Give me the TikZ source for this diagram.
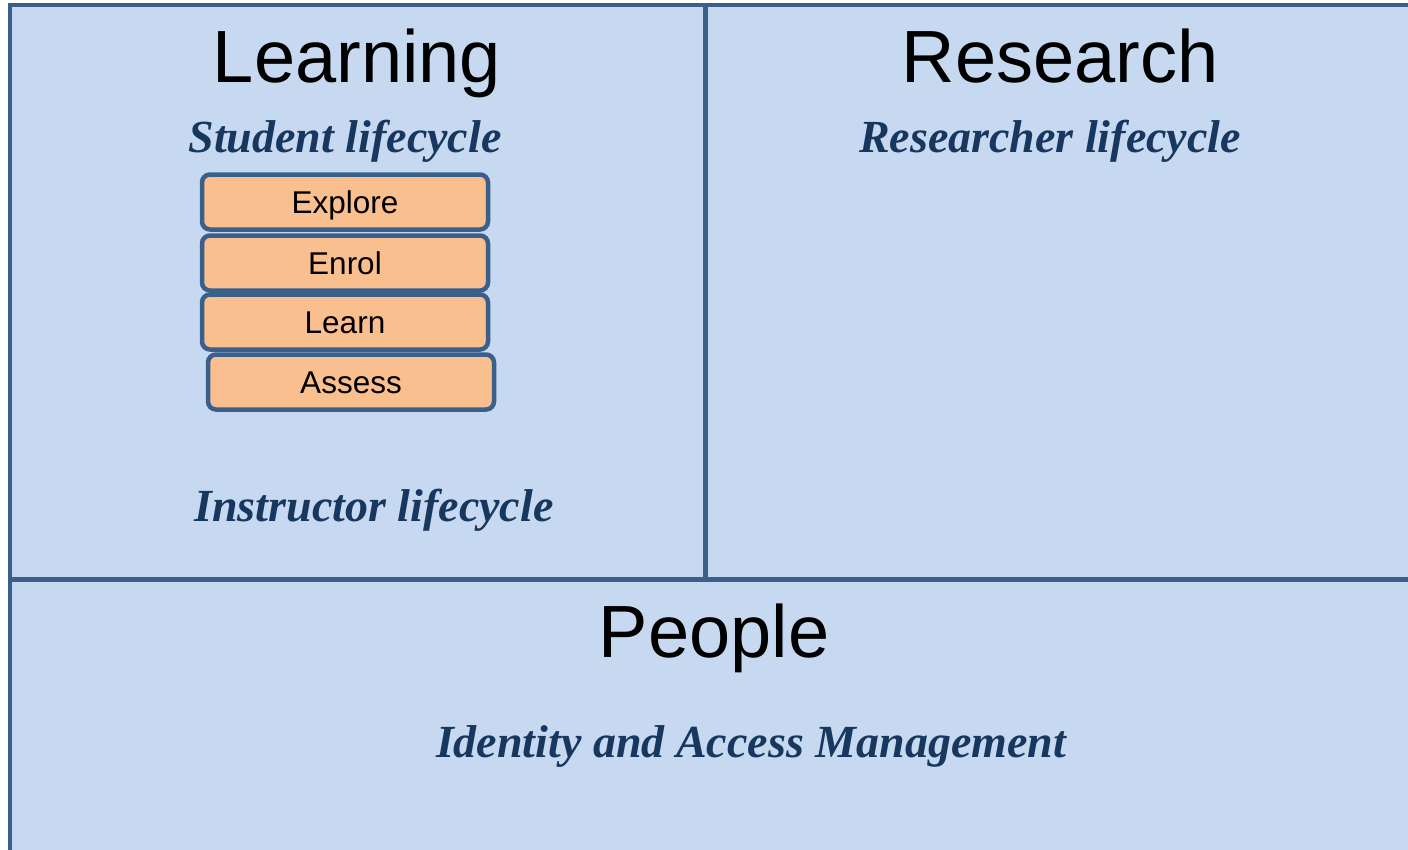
\documentclass[tikz,border=0pt]{standalone}
\usepackage{fontspec}
\setmainfont{Liberation Serif}
\setsansfont{Liberation Sans}
\definecolor{panelfill}{HTML}{C6D9F1}
\definecolor{panelline}{HTML}{3A5F8B}
\definecolor{stepfill}{HTML}{F9BF8F}
\definecolor{lifetext}{HTML}{17375E}
\begin{document}
\begin{tikzpicture}[
	x = 1pt, y = -1pt,
	panel/.style = {fill=panelfill, draw=panelline, line width=4.5pt},
	heading/.style = {anchor=base, inner sep=0pt, font=\sffamily\fontsize{74}{74}\selectfont},
	cycle/.style = {anchor=base, inner sep=0pt, text=lifetext, font=\rmfamily\bfseries\itshape\fontsize{46}{46}\selectfont},
	stepbox/.style = {draw=panelline, fill=stepfill, line width=4.5pt, rounded corners=8pt,
		minimum width=286pt, minimum height=55pt, inner sep=0pt,
		text height=22.5pt, text depth=0.5pt,
		font=\sffamily\fontsize{31.5}{31.5}\selectfont}
	]
	
	\useasboundingbox (0,0) rectangle (1408,849);
	\clip (0,0) rectangle (1408,849);
	
	% panels
	\draw[panel] (10,5) rectangle (1430,870);
	\draw[panelline, line width=4.5pt] (705.5,5) -- (705.5,579.5);
	\draw[panelline, line width=4.5pt] (10,579.5) -- (1430,579.5);
	
	% headings
	\node[heading] (learning) at (357,82) {Learning};
	\node[heading] (research) at (1060,82) {Research};
	\node[heading] (people) at (714,657) {People};
	
	% lifecycles
	\node[cycle] (student) at (345,152) {Student lifecycle};
	\node[cycle] (researcher) at (1050,152) {Researcher lifecycle};
	\node[cycle] (instructor) at (374,521) {Instructor lifecycle};
	\node[cycle] (iam) at (751,757) {Identity and Access Management};
	
	% student steps
	\node[stepbox] (explore) at (345,202) {Explore};
	\node[stepbox] (enrol) at (345,263) {Enrol};
	\node[stepbox] (learn) at (345,322) {Learn};
	\node[stepbox] (assess) at (351,382) {Assess};
	
\end{tikzpicture}
\end{document}
